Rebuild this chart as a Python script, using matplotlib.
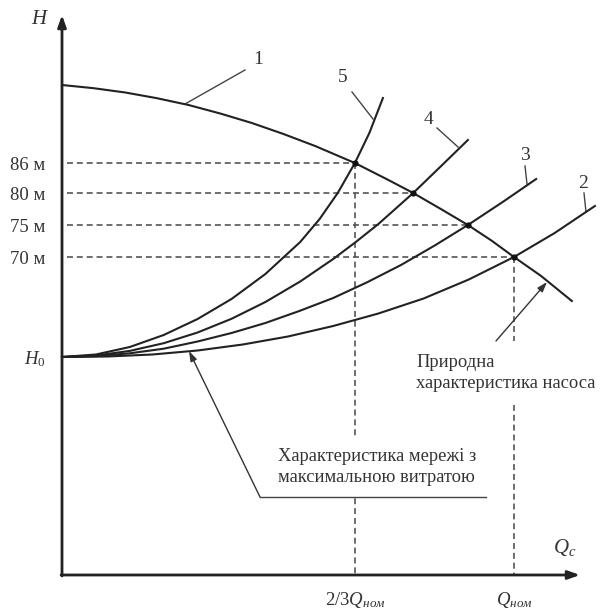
import matplotlib
matplotlib.use("Agg")
import matplotlib.pyplot as plt

plt.rcParams['font.family'] = ['Liberation Serif', 'DejaVu Serif']
plt.rcParams['mathtext.fontset'] = 'custom'
plt.rcParams['mathtext.rm'] = 'Liberation Serif'
plt.rcParams['mathtext.it'] = 'Liberation Serif:italic'
plt.rcParams['lines.scale_dashes'] = False

# ---- data (Q as fraction of Q_nom, H in arbitrary schematic units) ----
pump_q = [0, 0.07, 0.14, 0.21, 0.28, 0.35, 0.42, 0.49, 0.56, 0.648, 0.72, 0.777,
          0.84, 0.898, 0.95, 1.0, 1.06, 1.128]
pump_h = [490, 486.8, 482.5, 476.8, 470, 461.5, 452, 441, 429, 412, 395.5, 382,
          365.5, 350, 334.5, 318, 299, 274]

sys2_q = [0, 0.1, 0.2, 0.3, 0.4, 0.5, 0.6, 0.7, 0.8, 0.9, 1.0, 1.09, 1.179]
sys2_h = [218, 218.5, 220.5, 224.5, 230.5, 238.5, 249, 261.5, 276.5, 295.5, 318, 342, 369]

sys3_q = [0, 0.075, 0.15, 0.225, 0.3, 0.375, 0.45, 0.525, 0.6, 0.675, 0.75, 0.825,
          0.898, 0.975, 1.049]
sys3_h = [218, 218.9, 221.7, 226.3, 233.5, 242, 252, 264, 277, 292.7, 310, 329.6,
          350, 373, 396]

sys4_q = [0, 0.075, 0.15, 0.225, 0.3, 0.375, 0.45, 0.527, 0.6, 0.65, 0.7, 0.777,
          0.84, 0.898]
sys4_h = [218, 219.5, 224.1, 231.8, 242.5, 256.2, 273, 293.5, 316, 333, 351, 382,
          409.5, 435]

sys5_q = [0, 0.075, 0.15, 0.225, 0.3, 0.375, 0.45, 0.527, 0.57, 0.61, 0.648, 0.68, 0.71]
sys5_h = [218, 220.5, 228, 240, 256, 276, 301, 333, 356, 382, 412, 442, 477]

cross_q = [0.648, 0.777, 0.898, 1.0]
cross_h = [412, 382, 350, 318]
cross_labels = ['86 м', '80 м', '75 м', '70 м']
H0 = 218
drop_q = [0.648, 1.0]
drop_labels = [r'$2/3Q_{\mathit{ном}}$', r'$Q_{\mathit{ном}}$']

curve_names = ['1', '2', '3', '4', '5']

# ---- figure ----
W, Hpx = 603, 612
fig = plt.figure(figsize=(W / 100, Hpx / 100), dpi=100)
ax = fig.add_axes([62 / W, 37 / Hpx, 518 / W, 560 / Hpx])
ax.set_xlim(0, 518 / 452)
ax.set_ylim(0, 560)
for s in ax.spines.values():
    s.set_visible(False)

def px(x, y):
    """pixel coords of reference -> data coords (layout helper)"""
    return ((x - 62) / 452, 575 - y)

line_c = '#222222'
dash_c = '#555555'
txt_c = '#333333'

# dashed guide lines
for q, h in zip(cross_q, cross_h):
    ax.plot([0.012, q], [h, h], color=dash_c, lw=1.2, dashes=(4.3, 2.8), zorder=1)
for q, h in zip(cross_q, cross_h):
    if q in drop_q:
        ax.plot([q, q], [h, 0], color=dash_c, lw=1.2, dashes=(4.3, 2.8), zorder=1)

# curves
lw = 1.5
ax.plot(pump_q, pump_h, color=line_c, lw=lw, zorder=3, clip_on=False)
for qq, hh in [(sys2_q, sys2_h), (sys3_q, sys3_h), (sys4_q, sys4_h), (sys5_q, sys5_h)]:
    ax.plot(qq, hh, color=line_c, lw=lw, zorder=3, clip_on=False)
ax.scatter(cross_q, cross_h, s=12, color='#111111', zorder=4)

# axes with arrows
ax.annotate('', xy=(0, 560), xytext=(0, -1), xycoords='data',
            arrowprops=dict(arrowstyle='-|>,head_length=0.7,head_width=0.25',
                            color=line_c, lw=2.0, shrinkA=0, shrinkB=0),
            annotation_clip=False, zorder=5)
ax.annotate('', xy=(518 / 452, 0), xytext=(-0.002, 0), xycoords='data',
            arrowprops=dict(arrowstyle='-|>,head_length=0.7,head_width=0.25',
                            color=line_c, lw=2.0, shrinkA=0, shrinkB=0),
            annotation_clip=False, zorder=5)

# tick labels
ax.set_yticks(cross_h + [H0])
ax.set_yticklabels(cross_labels + [r'$H_0$'], fontsize=13.5, color=txt_c)
ax.set_xticks(drop_q)
ax.set_xticklabels(drop_labels, fontsize=13.5, color=txt_c)
ax.tick_params(axis='y', length=0, pad=12)
ax.tick_params(axis='x', length=0, pad=11)

# axis names
ax.text(*px(40, 19), r'$H$', fontsize=15, ha='center', va='center', color=txt_c)
ax.text(*px(565, 548), r'$Q_c$', fontsize=15, ha='center', va='center', color=txt_c)

# curve numbers with leaders
labels_pos = [(258, 60), (583, 183), (525, 156), (428, 119), (343, 78)]
leaders = [((245, 70), (185, 104)), ((584, 193), (586, 212)), ((525, 166), (527, 184)),
           ((437, 128), (458, 147)), ((352, 92), (373, 119))]
for name, (lx, ly), (a, b) in zip(curve_names, labels_pos, leaders):
    ax.text(*px(lx, ly), name, fontsize=14, ha='center', va='center', color=txt_c)
    p1, p2 = px(*a), px(*b)
    ax.plot([p1[0], p2[0]], [p1[1], p2[1]], color='#444444', lw=1.0, zorder=2,
            clip_on=False)

# annotation: pump natural characteristic
ax.text(*px(416, 373), 'Природна\nхарактеристика насоса', fontsize=13.3,
        ha='left', va='center', color=txt_c, linespacing=1.38,
        bbox=dict(facecolor='white', edgecolor='none', pad=9), zorder=6)
ax.annotate('', xy=px(547, 282), xytext=px(496, 341),
            arrowprops=dict(arrowstyle='-|>,head_length=0.6,head_width=0.2',
                            color='#333333', lw=1.0, shrinkA=0, shrinkB=0), zorder=7)

# annotation: network characteristic with maximal flow
ax.text(*px(278, 467), 'Характеристика мережі з\nмаксимальною витратою', fontsize=13.3,
        ha='left', va='center', color=txt_c, linespacing=1.38,
        bbox=dict(facecolor='white', edgecolor='none', pad=6), zorder=6)
pa, pb = px(486, 497), px(260, 497)
ax.plot([pa[0], pb[0]], [pa[1], pb[1]], color='#444444', lw=1.0, zorder=7)
ax.annotate('', xy=px(189, 351), xytext=px(260, 497),
            arrowprops=dict(arrowstyle='-|>,head_length=0.6,head_width=0.2',
                            color='#333333', lw=1.0, shrinkA=0, shrinkB=0), zorder=7)

fig.savefig('out.png', dpi=100, facecolor='white')
